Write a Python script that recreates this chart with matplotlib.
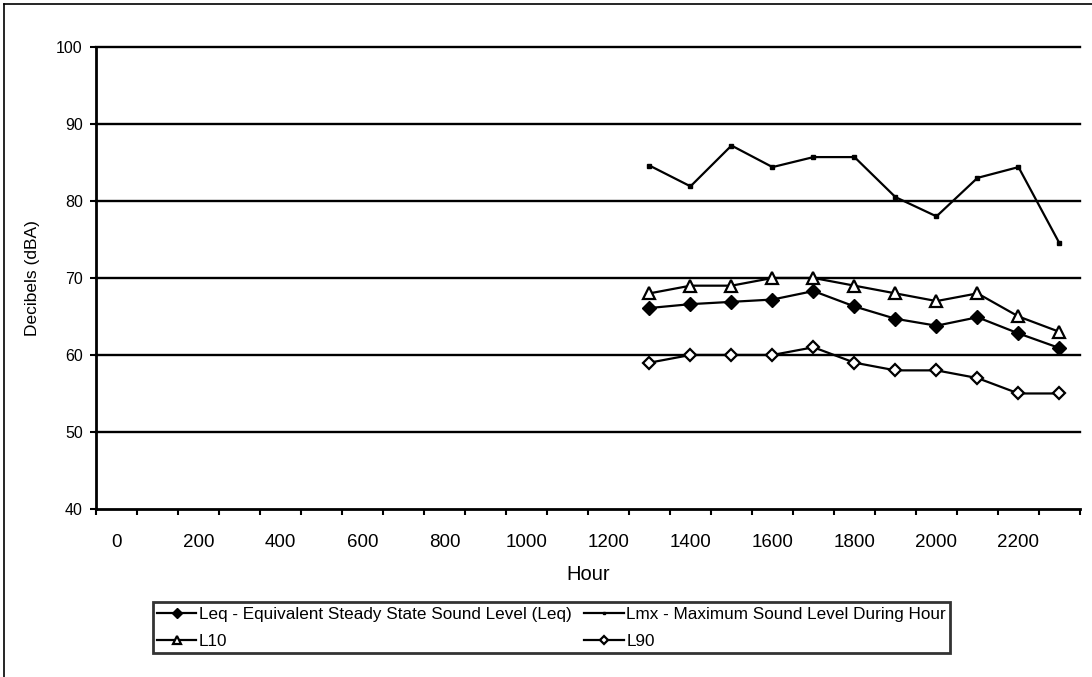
import matplotlib
matplotlib.use("Agg")
import matplotlib.pyplot as plt
from matplotlib.lines import Line2D

plt.rcParams['font.family'] = ['Liberation Sans', 'DejaVu Sans']

# categories on the x axis (0..2300), labels every other one
hour_cats = list(range(0, 2400, 100))
hour_labels = [str(h) for h in hour_cats[::2]]

# measured hours and levels
hours = [1300, 1400, 1500, 1600, 1700, 1800, 1900, 2000, 2100, 2200, 2300]
leq = [66.1, 66.6, 66.9, 67.2, 68.3, 66.3, 64.7, 63.8, 64.9, 62.8, 60.9]
lmx = [84.6, 81.9, 87.2, 84.4, 85.7, 85.7, 80.5, 78.0, 83.0, 84.4, 74.5]
l10 = [68, 69, 69, 70, 70, 69, 68, 67, 68, 65, 63]
l90 = [59, 60, 60, 60, 61, 59, 58, 58, 57, 55, 55]

fig = plt.figure(figsize=(10.92, 6.77), dpi=100)
ax = fig.add_axes([0.0879, 0.2482, 0.9011, 0.6824])

# outer chart border (left and top only visible)
fig.add_artist(Line2D([4/1092, 4/1092], [0, 1-4/677], transform=fig.transFigure, color='black', lw=1.2))
fig.add_artist(Line2D([4/1092, 1], [1-4/677, 1-4/677], transform=fig.transFigure, color='black', lw=1.2))

# x position = category index centre
xpos = [hour_cats.index(h) + 0.5 for h in hours]

for yv in [50, 60, 70, 80, 90, 100]:
    ax.axhline(yv, color='black', lw=1.7, zorder=1, clip_on=False)

h1, = ax.plot(xpos, leq, color='black', lw=1.6, marker='D', ms=7, mfc='black', mec='black',
              label='Leq - Equivalent Steady State Sound Level (Leq)', zorder=3)
h2, = ax.plot(xpos, lmx, color='black', lw=1.6, marker='s', ms=2.2, mfc='black', mec='black',
              label='Lmx - Maximum Sound Level During Hour', zorder=3)
h3, = ax.plot(xpos, l10, color='black', lw=1.6, marker='^', ms=8.5, mfc='white', mec='black', mew=1.6,
              label='L10', zorder=3)
h4, = ax.plot(xpos, l90, color='black', lw=1.6, marker='D', ms=6.5, mfc='white', mec='black', mew=1.6,
              label='L90', zorder=3)

ax.set_xlim(0, len(hour_cats))
ax.set_ylim(40, 100)
ax.set_yticks(range(40, 101, 10))
ax.tick_params(axis='y', length=4.5, width=1.5, pad=5, labelsize=11.5)

ax.set_xticks(range(0, len(hour_cats) + 1))
ax.set_xticklabels([])
ax.set_xticks([i + 0.5 for i in range(0, len(hour_cats), 2)], minor=True)
ax.set_xticklabels(hour_labels, minor=True)
ax.tick_params(axis='x', which='major', length=4, width=1.5, direction='out')
ax.tick_params(axis='x', which='minor', length=0, pad=18, labelsize=13.5)

for s in ['top', 'right']:
    ax.spines[s].set_visible(False)
for s in ['left', 'bottom']:
    ax.spines[s].set_linewidth(2)

ax.set_xlabel('Hour', fontsize=14.5, labelpad=10)
ax.set_ylabel('Decibels (dBA)', fontsize=12.5)
ax.yaxis.set_label_coords(-0.057, 0.5)

leg = fig.legend([h1, h3, h2, h4], [h.get_label() for h in [h1, h3, h2, h4]],
                 ncol=2, loc='center', bbox_to_anchor=(0.505, 0.073), fontsize=12.3,
                 frameon=True, fancybox=False, edgecolor='black', handlelength=2.3,
                 handletextpad=0.15, columnspacing=0.75, labelspacing=0.7, borderpad=0.25,
                 borderaxespad=0, markerscale=0.7)
leg.get_frame().set_linewidth(2)

fig.savefig('out.png', dpi=100)
